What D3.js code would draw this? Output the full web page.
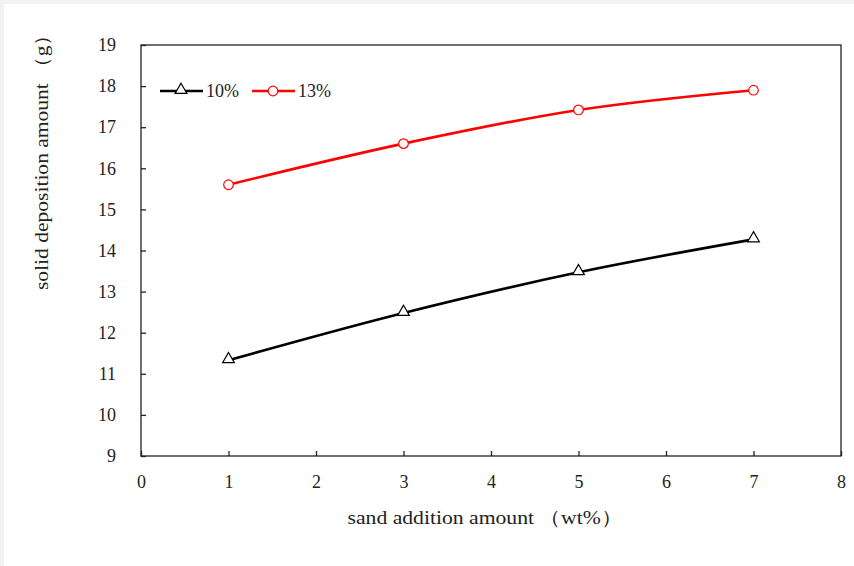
<!DOCTYPE html>
<html>
<head>
<meta charset="utf-8">
<title>solid deposition</title>
<script src="https://cdn.jsdelivr.net/npm/d3@7"></script>
<style>
  html, body { margin: 0; padding: 0; background: #f0f2f5; }
  svg { display: block; }
  text { font-family: "Liberation Serif", "Times New Roman", serif; fill: #222; }
</style>
</head>
<body>
<script>
// data
var sandAmount = [1, 3, 5, 7];
var dep10 = [11.33, 12.48, 13.47, 14.27];
var dep13 = [15.6, 16.6, 17.42, 17.9];
var xTicks = [0, 1, 2, 3, 4, 5, 6, 7, 8];
var yTicks = [9, 10, 11, 12, 13, 14, 15, 16, 17, 18, 19];

var w = 854, h = 566;
var m = { left: 141, right: 841, top: 45, bottom: 456 };

var svg = d3.select("body").append("svg")
  .attr("width", w)
  .attr("height", h);

// white panel over the grey page edge
svg.append("rect")
  .attr("x", 4).attr("y", 4)
  .attr("width", w - 4).attr("height", h - 4)
  .attr("fill", "#fff");

var x = d3.scaleLinear().domain([0, 8]).range([m.left, m.right]);
var y = d3.scaleLinear().domain([9, 19]).range([m.bottom, m.top]);

// plot frame
svg.append("rect")
  .attr("x", m.left).attr("y", m.top)
  .attr("width", m.right - m.left).attr("height", m.bottom - m.top)
  .attr("fill", "none")
  .attr("stroke", "#222")
  .attr("stroke-width", 1.3);

var axisX = d3.axisBottom(x).tickValues(xTicks).tickSize(-5).tickPadding(19).tickFormat(d3.format("d"));
var axisY = d3.axisLeft(y).tickValues(yTicks).tickSize(-5).tickPadding(25).tickFormat(d3.format("d"));

var gx = svg.append("g")
  .attr("transform", "translate(0," + m.bottom + ")")
  .call(axisX);
var gy = svg.append("g")
  .attr("transform", "translate(" + m.left + ",0)")
  .call(axisY);

[gx, gy].forEach(function (g) {
  g.select(".domain").remove();
  g.selectAll(".tick line").attr("stroke", "#222").attr("stroke-width", 1.3);
  g.selectAll(".tick text").attr("font-size", 18).attr("fill", "#222")
    .style("font-family", "'Liberation Serif', serif");
});

// axis titles (glyphs stretched a bit to match the wide original font)
svg.append("text")
  .attr("x", 485).attr("y", 524)
  .attr("text-anchor", "middle")
  .attr("font-size", 19)
  .attr("textLength", 275)
  .attr("lengthAdjust", "spacingAndGlyphs")
  .text("sand addition  amount （wt%）");

svg.append("text")
  .attr("transform", "translate(48,157) rotate(-90)")
  .attr("text-anchor", "middle")
  .attr("font-size", 19)
  .attr("textLength", 266)
  .attr("lengthAdjust", "spacingAndGlyphs")
  .text("solid  deposition  amount （g）");

var line = d3.line()
  .x(function (d) { return x(d[0]); })
  .y(function (d) { return y(d[1]); })
  .curve(d3.curveCatmullRom.alpha(0.5));

var series = [
  { name: "10%", vals: dep10, color: "#000", mark: "tri" },
  { name: "13%", vals: dep13, color: "#ff0000", mark: "circ" }
];

function drawMark(g, mark, color, cx, cy) {
  if (mark === "tri") {
    g.append("path")
      .attr("d", d3.symbol().type(d3.symbolTriangle).size(60)())
      .attr("transform", "translate(" + cx + "," + (cy - 1) + ")")
      .attr("fill", "#fff")
      .attr("stroke", color)
      .attr("stroke-width", 1.2);
  } else {
    g.append("circle")
      .attr("cx", cx).attr("cy", cy).attr("r", 4.8)
      .attr("fill", "#fff")
      .attr("stroke", color)
      .attr("stroke-width", 1.2);
  }
}

series.forEach(function (s) {
  var pts = sandAmount.map(function (v, i) { return [v, s.vals[i]]; });
  svg.append("path")
    .datum(pts)
    .attr("fill", "none")
    .attr("stroke", s.color)
    .attr("stroke-width", 2.6)
    .attr("d", line);
  var g = svg.append("g");
  pts.forEach(function (p) { drawMark(g, s.mark, s.color, x(p[0]), y(p[1])); });
});

// legend
var lg = svg.append("g").attr("transform", "translate(160,91)");
series.forEach(function (s, i) {
  var ox = i * 92;
  lg.append("line")
    .attr("x1", ox).attr("x2", ox + 43)
    .attr("y1", 0).attr("y2", 0)
    .attr("stroke", s.color)
    .attr("stroke-width", 2.6);
  drawMark(lg, s.mark, s.color, ox + 21, 0);
  lg.append("text")
    .attr("x", ox + 46).attr("y", 6)
    .attr("font-size", 18)
    .text(s.name);
});
</script>
</body>
</html>
